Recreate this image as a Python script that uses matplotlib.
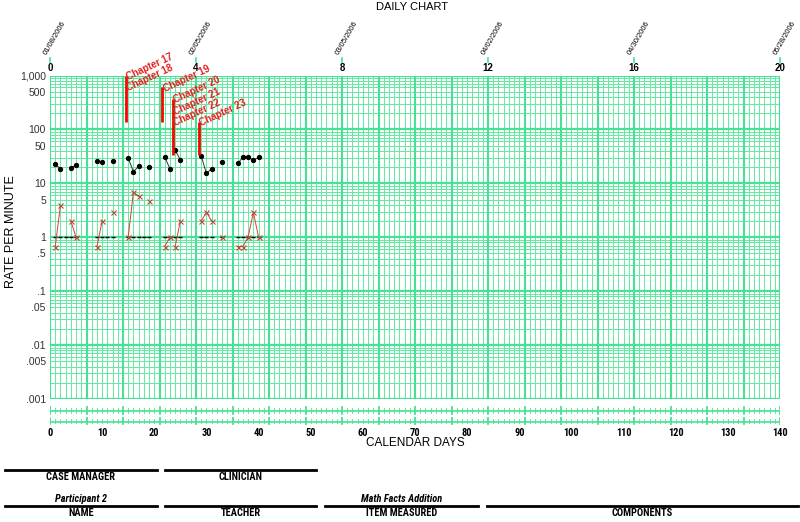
import numpy as np
import matplotlib
matplotlib.use('Agg')
import matplotlib.pyplot as plt
from matplotlib import font_manager
from matplotlib.lines import Line2D

names = {f.name for f in font_manager.fontManager.ttflist}
REG = 'Liberation Sans' if 'Liberation Sans' in names else 'DejaVu Sans'
NARROW = REG
for cand in ['Liberation Sans Narrow', 'Arial Narrow', 'DejaVu Sans Condensed', 'Roboto Condensed']:
    if cand in names:
        NARROW = cand
        break

# data
days = [1, 2, 4, 5, 9, 10, 12, 15, 16, 17, 19, 22, 23, 24, 25, 29, 30, 31, 33, 36, 37, 38, 39, 40]
corrects = [22.5, 18.7, 19.5, 21.5, 25.5, 24.5, 26.3, 29.4, 16.5, 20.6, 20, 30.7, 18.7, 40.8, 27.4,
            32, 15.3, 18.7, 24.5, 23.4, 30.4, 31, 26.6, 30.4]
errors = [0.67, 3.9, 2, 1, 0.67, 2, 2.9, 1, 6.9, 5.7, 4.8, 0.67, 1, 0.67, 2,
          2, 2.9, 2, 1, 0.67, 0.67, 1, 2.9, 1]
floor_days = [1, 2, 3, 4, 5, 9, 10, 11, 12, 15, 16, 17, 18, 19, 22, 23, 24, 25,
              29, 30, 31, 33, 36, 37, 38, 39, 40]

phase_days = [14.5, 21.5, 23.5, 28.5]
phase_lo = [140, 140, 34, 34]
phase_hi = [1000, 600, 370, 140]
phase_labels = [['Chapter 17', 'Chapter 18'], ['Chapter 19'],
                ['Chapter 20', 'Chapter 21', 'Chapter 22'], ['Chapter 23']]

week_labels = [0, 4, 8, 12, 16, 20]
date_labels = ['01/08/2006', '02/05/2006', '03/05/2006', '04/02/2006', '04/30/2006', '05/28/2006']

ytick_vals = [1000, 500, 100, 50, 10, 5, 1, .5, .1, .05, .01, .005, .001]
ytick_text = ['1,000', '500', '100', '50', '10', '5', '1', '.5', '.1', '.05', '.01', '.005', '.001']

W, H = 800, 522
THIN = '#66e9a2'
THICK = '#45e195'


def fx(px):
    return px / W


def fy(py):
    return 1 - py / H


fig = plt.figure(figsize=(8, 5.22), dpi=100)

# main log chart
x0, x1, ytop, ybot = 50, 780, 75.5, 399
ax = fig.add_axes([fx(x0), fy(ybot), fx(x1 - x0), (ybot - ytop) / H])
ax.set_yscale('log')
ax.set_xlim(0, 140)
ax.set_ylim(0.001, 1000)
for s in ax.spines.values():
    s.set_visible(False)

for d in range(141):
    if d % 7 == 0:
        ax.axvline(d, color=THICK, lw=1.5, zorder=1)
    else:
        ax.axvline(d, color=THIN, lw=0.72, zorder=0.5, antialiased=False)
for k in range(-3, 3):
    for m in range(1, 10):
        v = m * 10.0 ** k
        if m == 1:
            ax.axhline(v, color=THICK, lw=1.6, zorder=1)
        else:
            ax.axhline(v, color=THIN, lw=0.72, zorder=0.5, antialiased=False)
ax.axhline(1000, color=THICK, lw=1.6, zorder=1)

ax.set_yticks(ytick_vals)
ax.set_yticklabels(ytick_text, fontsize=7.5, color='#333333', family=REG)
ax.yaxis.set_minor_locator(matplotlib.ticker.NullLocator())
ax.tick_params(axis='y', length=0, pad=3)
ax.set_xticks([])
fig.text(fx(11), fy(232), 'RATE PER MINUTE', rotation=90, ha='center', va='center',
         fontsize=9, family=REG)

# record floor dashes
ax.plot(floor_days, [1] * len(floor_days), ls='none', marker='_', ms=3.2, mew=1.0,
        color='black', zorder=3)


def runs(ds):
    out, cur = [], [0]
    for i in range(1, len(ds)):
        crosses = any(ds[i - 1] < p < ds[i] for p in phase_days)
        if ds[i] - ds[i - 1] == 1 and not crosses:
            cur.append(i)
        else:
            out.append(cur)
            cur = [i]
    out.append(cur)
    return out


for r in runs(days):
    xs = [days[i] for i in r]
    ax.plot(xs, [corrects[i] for i in r], color='#333333', lw=0.7, marker='o', ms=2.8,
            mfc='black', mec='black', zorder=4)
    ax.plot(xs, [errors[i] for i in r], color='#e03a3a', lw=0.7, marker='x', ms=3.6, mew=0.8,
            mec='#b84a3a', zorder=4)

# phase change lines and labels
for d, lo, hi, labs in zip(phase_days, phase_lo, phase_hi, phase_labels):
    ax.plot([d, d], [lo, hi], color='#ff0000', lw=2.0, zorder=5, solid_capstyle='butt')
    for j, t in enumerate(labs):
        ax.annotate(t, xy=(d, hi), xytext=(2.5, -4.5 - 8.3 * j), textcoords='offset points',
                    rotation=25, rotation_mode='anchor', ha='left', va='bottom',
                    color='#e52020', fontsize=7, fontweight='bold', family=REG, zorder=6,
                    annotation_clip=False)

# top week axis
for w, dl in zip(week_labels, date_labels):
    xd = w * 7
    ax.annotate(str(w), xy=(xd, 1.0), xycoords=ax.get_xaxis_transform(), xytext=(0, 2),
                textcoords='offset points', ha='center', va='bottom',
                fontsize=7, fontweight='bold', family=REG, annotation_clip=False)
    ax.annotate(dl, xy=(xd, 1.0), xycoords=ax.get_xaxis_transform(), xytext=(-3, 15),
                textcoords='offset points', rotation=60, rotation_mode='anchor',
                ha='left', va='center', fontsize=5.5, family=REG, annotation_clip=False)
    px = x0 + (x1 - x0) * xd / 140
    fig.add_artist(Line2D([fx(px), fx(px)], [fy(58), fy(62)], color=THICK, lw=1.2))

# lower strips
sb, st = 427, 403
ax2 = fig.add_axes([fx(x0), fy(sb), fx(x1 - x0), (sb - st) / H])
ax2.set_xlim(0, 140)
ax2.set_ylim(sb, st)
for s in ax2.spines.values():
    s.set_visible(False)
ax2.set_yticks([])
for yl in [411, 421.5]:
    ax2.plot([0, 140], [yl, yl], color=THICK, lw=1.2, zorder=1)
    for d in range(141):
        if d % 7 == 0:
            ax2.plot([d, d], [yl - 4, yl + 2.5], color=THICK, lw=1.3, zorder=1)
        else:
            ax2.plot([d, d], [yl - 3, yl + 1.5], color=THIN, lw=0.72, zorder=0.5,
                     antialiased=False)
ax2.set_xticks(range(0, 141, 10))
ax2.set_xticklabels([str(v) for v in range(0, 141, 10)], fontsize=7.5, fontweight='bold',
                    family=NARROW)
ax2.tick_params(axis='x', length=0, pad=0.5)

fig.text(fx(415), fy(443), 'CALENDAR DAYS', ha='center', va='center', fontsize=8.5, family=REG)
fig.text(fx(412), fy(7), 'DAILY CHART', ha='center', va='center', fontsize=8, family=REG)

# footer
footer = [(5, 157, 470, 'CASE MANAGER', ''), (165, 316, 470, 'CLINICIAN', ''),
          (5, 157, 506, 'NAME', 'Participant 2'), (165, 316, 506, 'TEACHER', ''),
          (325, 478, 506, 'ITEM MEASURED', 'Math Facts Addition'), (487, 798, 506, 'COMPONENTS', '')]
for a, b, yl, lab, val in footer:
    fig.add_artist(Line2D([fx(a), fx(b)], [fy(yl), fy(yl)], color='black', lw=2.0))
    fig.text(fx((a + b) / 2), fy(yl + 7), lab, ha='center', va='center', fontsize=7.5,
             fontweight='bold', family=NARROW)
    if val:
        fig.text(fx((a + b) / 2), fy(yl - 7), val, ha='center', va='center', fontsize=7.5,
                 fontweight='bold', fontstyle='italic', family=NARROW)

fig.savefig('out.png', dpi=100)
